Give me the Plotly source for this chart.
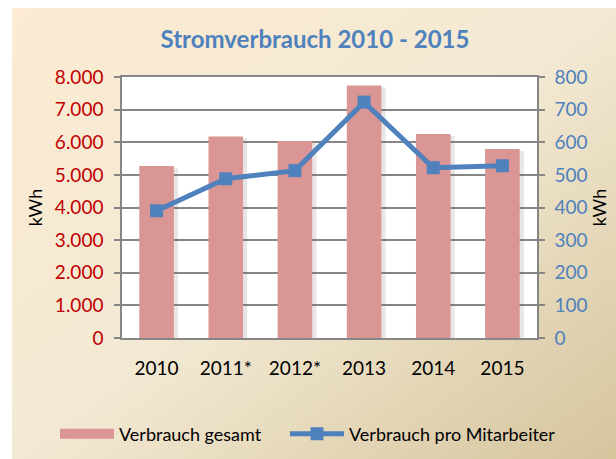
import plotly.graph_objects as go
import base64

years = ["2010", "2011*", "2012*", "2013", "2014", "2015"]
verbrauch_gesamt = [5270, 6180, 6040, 7740, 6250, 5790]
verbrauch_pro_ma = [390, 488, 513, 723, 522, 528]
left_ticks = [0, 1000, 2000, 3000, 4000, 5000, 6000, 7000, 8000]
right_ticks = [0, 100, 200, 300, 400, 500, 600, 700, 800]

W, H = 616, 459
ML, MR, MT, MB = 122, 79, 77, 121

svg = f'''<svg xmlns="http://www.w3.org/2000/svg" width="{W}" height="{H}" viewBox="0 0 {W} {H}" preserveAspectRatio="none">
<defs><linearGradient id="g" x1="0" y1="0" x2="1" y2="1">
<stop offset="0" stop-color="#FCEBD2"/><stop offset="0.5" stop-color="#F3E9D3"/><stop offset="1" stop-color="#D5C59D"/>
</linearGradient></defs>
<rect x="0" y="0" width="{W}" height="{H}" fill="#ffffff"/>
<rect x="12" y="8" width="{W-12}" height="{H-8}" fill="url(#g)"/>
<rect x="{ML}" y="{MT}" width="{W-ML-MR}" height="{H-MT-MB}" fill="#ffffff"/>
</svg>'''
src = "data:image/svg+xml;base64," + base64.b64encode(svg.encode()).decode()

pw, ph = W - ML - MR, H - MT - MB
def px(x): return (x - ML) / pw
def py(y): return (H - MB - y) / ph

FONT = "Lato"
BAR = "#D99694"
BLUE = "#4F81BD"
GRID = "#868686"

fig = go.Figure()
# soft shadow behind bars
fig.add_trace(go.Bar(
    x=years, y=verbrauch_gesamt, showlegend=False, hoverinfo="skip",
    marker=dict(color="rgba(90,80,70,0.14)", line=dict(width=0)),
    width=0.5, offset=-0.19, base=-60,
))
fig.add_trace(go.Bar(
    x=years, y=verbrauch_gesamt, name="Verbrauch gesamt", showlegend=False,
    marker=dict(color=BAR, line=dict(width=0)), width=0.5, offset=-0.25,
    legendgroup="g",
))
# legend entry for bars (wide rectangle swatch)
fig.add_trace(go.Scatter(
    x=[None], y=[None], name="Verbrauch gesamt", mode="lines",
    line=dict(color=BAR, width=11), legendgroup="g", legend="legend",
))
fig.add_trace(go.Scatter(
    x=years, y=verbrauch_pro_ma, name="Verbrauch pro Mitarbeiter", yaxis="y2",
    mode="lines+markers", line=dict(color=BLUE, width=5),
    marker=dict(symbol="square", size=13, color=BLUE), legend="legend2",
))

leg_common = dict(orientation="h", xref="container", yref="container",
                  xanchor="left", yanchor="middle", y=1 - 434 / H,
                  bgcolor="rgba(0,0,0,0)", font=dict(size=18, color="black"),
                  itemwidth=54)

fig.update_layout(
    width=W, height=H,
    margin=dict(l=ML, r=MR, t=MT, b=MB, pad=0),
    paper_bgcolor="white", plot_bgcolor="white",
    separators=",.",
    barmode="overlay",
    font=dict(family=FONT, size=18, color="black"),
    title=dict(text="<b>Stromverbrauch 2010 - 2015</b>", x=315 / W, xref="container",
               xanchor="center", y=1 - 40 / H, yref="container", yanchor="middle",
               font=dict(family=FONT, size=24, color=BLUE)),
    images=[dict(source=src, xref="paper", yref="paper", x=px(0), y=py(0),
                 sizex=px(W) - px(0), sizey=py(0) - py(H), xanchor="left", yanchor="top",
                 sizing="stretch", layer="below")],
    xaxis=dict(showline=True, linecolor=GRID, linewidth=1.5, mirror=True, automargin=False,
               ticks="", showgrid=False, tickfont=dict(size=19, color="black"),
               ticklabelstandoff=12, range=[-0.5, 5.5]),
    yaxis=dict(range=[0, 8000], tickvals=left_ticks, tickformat=",d", automargin=False,
               showline=True, linecolor=GRID, linewidth=1.5,
               ticks="outside", ticklen=6, tickcolor=GRID, tickwidth=1.5,
               showgrid=True, gridcolor=GRID, gridwidth=1.5, zeroline=False,
               tickfont=dict(size=19, color="#C00000"), ticklabelstandoff=7,
               title=dict(text="kWh", font=dict(size=18, color="black"), standoff=8)),
    yaxis2=dict(range=[0, 800], tickvals=right_ticks, overlaying="y", side="right",
                automargin=False, showline=True, linecolor=GRID, linewidth=1.5,
                ticks="outside", ticklen=6, tickcolor=GRID, tickwidth=1.5,
                showgrid=False, zeroline=False, tickfont=dict(size=19, color=BLUE),
                ticklabelstandoff=6,
                title=dict(text="kWh", font=dict(size=18, color="black"), standoff=4)),
    legend=dict(leg_common, x=55 / W),
    legend2=dict(leg_common, x=285 / W),
    showlegend=True,
)

fig.write_html("out.html", config={"displayModeBar": False},
               post_script="document.body.style.margin='0';")
